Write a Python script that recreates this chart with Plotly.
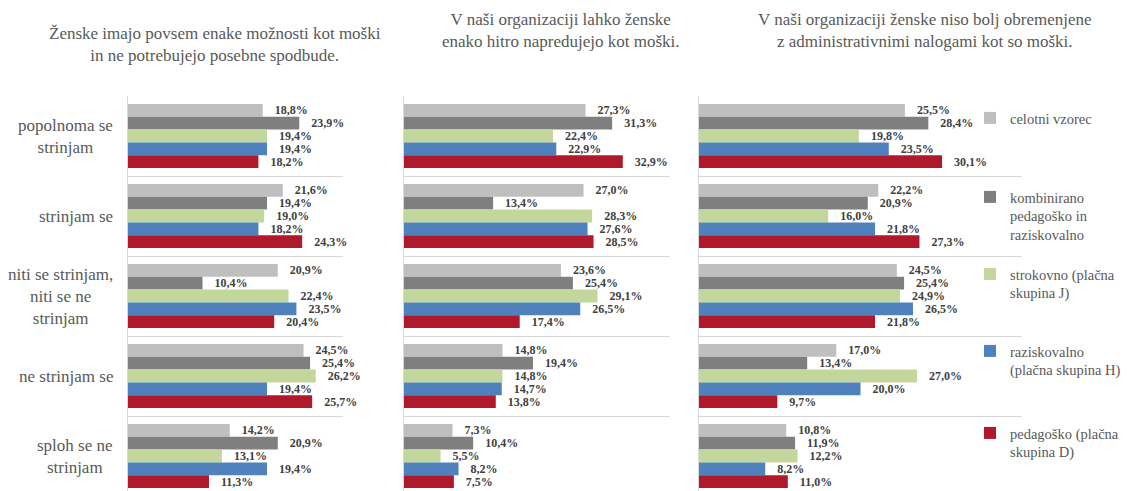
import plotly.graph_objects as go

# page body has an 8px default margin: design in screen pixels, convert to figure paper coords
OFF = 8
W, H = 1130 - OFF, 491 - OFF


def fx(x):
    return (x - OFF) / W


def fy(y):
    return 1 - (y - OFF) / H


# ---- data ----
categories = ["popolnoma se strinjam", "strinjam se", "niti se strinjam, niti se ne strinjam",
              "ne strinjam se", "sploh se ne strinjam"]
category_labels = ["popolnoma se<br>strinjam", "strinjam se", "niti se strinjam,<br>niti se ne<br>strinjam",
                   "ne strinjam se", "sploh se ne<br>strinjam"]
series_names = ["celotni vzorec", "kombinirano<br>pedagoško in<br>raziskovalno",
                "strokovno (plačna<br>skupina J)", "raziskovalno<br>(plačna skupina H)",
                "pedagoško (plačna<br>skupina D)"]
panel_titles = ["Ženske imajo povsem enake možnosti kot moški<br>in ne potrebujejo posebne spodbude.",
                "V naši organizaciji lahko ženske<br>enako hitro napredujejo kot moški.",
                "V naši organizaciji ženske niso bolj obremenjene<br>z administrativnimi nalogami kot so moški."]

q1_celotni = [18.8, 21.6, 20.9, 24.5, 14.2]
q1_kombinirano = [23.9, 19.4, 10.4, 25.4, 20.9]
q1_strokovno = [19.4, 19.0, 22.4, 26.2, 13.1]
q1_raziskovalno = [19.4, 18.2, 23.5, 19.4, 19.4]
q1_pedagosko = [18.2, 24.3, 20.4, 25.7, 11.3]

q2_celotni = [27.3, 27.0, 23.6, 14.8, 7.3]
q2_kombinirano = [31.3, 13.4, 25.4, 19.4, 10.4]
q2_strokovno = [22.4, 28.3, 29.1, 14.8, 5.5]
q2_raziskovalno = [22.9, 27.6, 26.5, 14.7, 8.2]
q2_pedagosko = [32.9, 28.5, 17.4, 13.8, 7.5]

q3_celotni = [25.5, 22.2, 24.5, 17.0, 10.8]
q3_kombinirano = [28.4, 20.9, 25.4, 13.4, 11.9]
q3_strokovno = [19.8, 16.0, 24.9, 27.0, 12.2]
q3_raziskovalno = [23.5, 21.8, 26.5, 20.0, 8.2]
q3_pedagosko = [30.1, 27.3, 21.8, 9.7, 11.0]

panels = [
    [q1_celotni, q1_kombinirano, q1_strokovno, q1_raziskovalno, q1_pedagosko],
    [q2_celotni, q2_kombinirano, q2_strokovno, q2_raziskovalno, q2_pedagosko],
    [q3_celotni, q3_kombinirano, q3_strokovno, q3_raziskovalno, q3_pedagosko],
]

# ---- style ----
colors = ["#bfbfbf", "#7f7f7f", "#c3d69b", "#4f81bd", "#b0182c"]
FONT = "Liberation Serif, DejaVu Serif, Times New Roman, serif"
GRID = "#d9d9d9"
TXT = "#595959"

x_ranges = [[0, 30], [0, 40], [0, 40]]
x_px = [(128, 343), (404, 670), (699, 1022)]
top_px = 96
ydom = [0, fy(top_px)]
yrange = [(491 - top_px) / 80 - 0.5, -0.5]

legend_ids = ["legend", "legend2", "legend3", "legend4", "legend5"]
legend_first_line = [118, 197, 274, 351, 433]
legend_text_x = 1010

fig = go.Figure()
for p, panel in enumerate(panels):
    ax = "" if p == 0 else str(p + 1)
    for s, vals in enumerate(panel):
        fig.add_trace(go.Bar(
            x=vals, y=categories, orientation="h",
            name=series_names[s],
            marker=dict(color=colors[s], line=dict(width=0)),
            text=["\u00a0\u00a0\u00a0" + f"{v:.1f}%".replace(".", ",") for v in vals],
            textposition="outside",
            textfont=dict(family=FONT, size=12, color="#404040", weight="bold"),
            constraintext="none", cliponaxis=False,
            xaxis="x" + ax, yaxis="y" + ax,
            showlegend=(p == 2), legend=legend_ids[s],
            hoverinfo="skip",
        ))

layout = dict(
    width=W, height=H,
    margin=dict(l=0, r=0, t=0, b=0, autoexpand=False),
    paper_bgcolor="white", plot_bgcolor="white",
    barmode="group", bargap=0.2, bargroupgap=0,
    font=dict(family=FONT, color=TXT, size=17),
    annotations=[],
)
for p in range(3):
    ax = "" if p == 0 else str(p + 1)
    layout["xaxis" + ax] = dict(
        domain=[fx(x_px[p][0]), fx(x_px[p][1])], range=x_ranges[p],
        showgrid=False, showticklabels=False, zeroline=False, showline=False,
        anchor="y" + ax, fixedrange=True,
    )
    layout["yaxis" + ax] = dict(
        domain=ydom, type="category", categoryarray=categories, categoryorder="array",
        range=yrange, tickson="boundaries", showgrid=True, gridcolor=GRID, gridwidth=1,
        showline=True, linecolor=GRID, linewidth=1, ticks="", showticklabels=False,
        anchor="x" + ax, fixedrange=True,
    )

for s, lid in enumerate(legend_ids):
    layout[lid] = dict(
        x=fx(legend_text_x - 40), xanchor="left", y=fy(legend_first_line[s] - 16), yanchor="top",
        bgcolor="rgba(0,0,0,0)", font=dict(family=FONT, size=14.5, color=TXT),
        valign="top", itemwidth=30,
    )

for i, lab in enumerate(category_labels):
    layout["annotations"].append(dict(
        text=lab, xref="paper", yref="y", x=fx(115), y=i, xanchor="right", yanchor="middle",
        align="center", showarrow=False, font=dict(family=FONT, size=17, color=TXT),
    ))

title_pos = [(215, 44), (560, 30), (925, 30)]
for t, (cx, cy) in zip(panel_titles, title_pos):
    layout["annotations"].append(dict(
        text=t, xref="paper", yref="paper", x=fx(cx), y=fy(cy), xanchor="center",
        yanchor="middle", align="center", showarrow=False,
        font=dict(family=FONT, size=17, color=TXT),
    ))

fig.update_layout(**layout)
fig.write_html("out.html")
